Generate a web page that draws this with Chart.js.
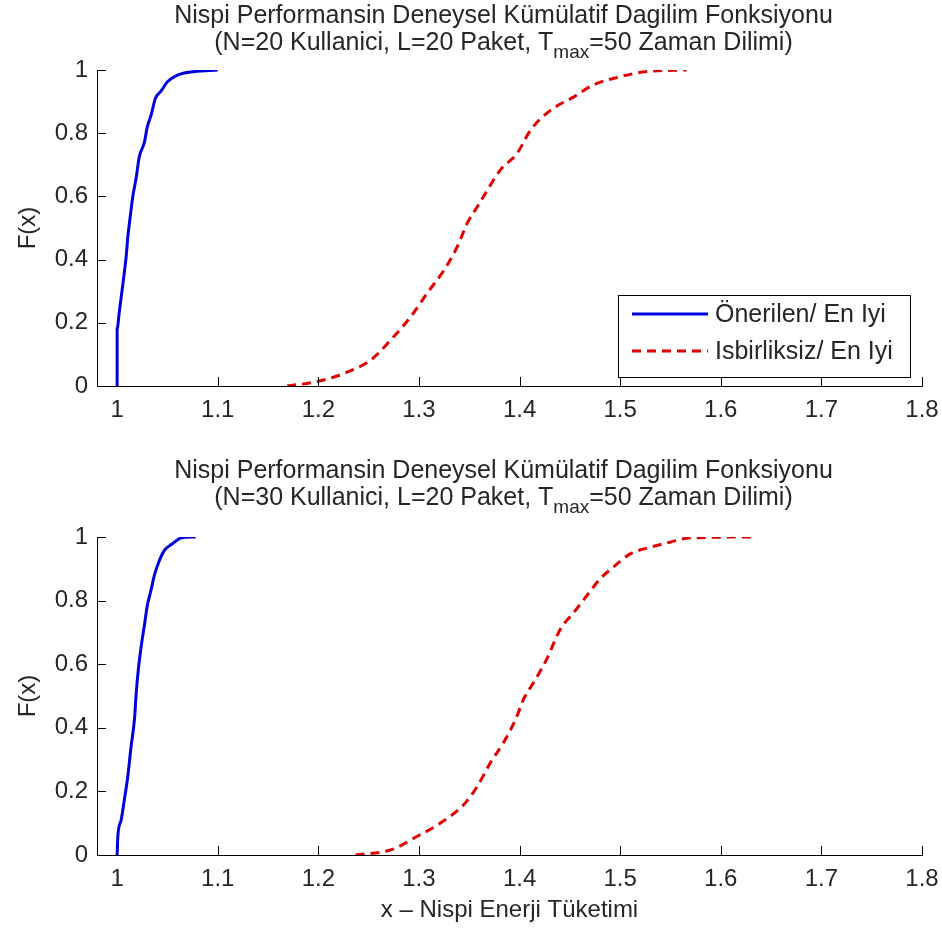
<!DOCTYPE html>
<html>
<head>
<meta charset="utf-8">
<script src="https://cdn.jsdelivr.net/npm/chart.js@4"></script>
<style>
  body { margin: 0; background: #fff; }
  .panel { position: absolute; left: 0; width: 942px; }
</style>
</head>
<body>
<div class="panel" style="top:0;height:455px"><canvas id="cdf-top"></canvas></div>
<div class="panel" style="top:455px;height:476px"><canvas id="cdf-bottom"></canvas></div>
<script>
// axis ticks
const xTicks = [1, 1.1, 1.2, 1.3, 1.4, 1.5, 1.6, 1.7, 1.8];
const yTicks = [0, 0.2, 0.4, 0.6, 0.8, 1];

// legend labels
const seriesNames = ["Önerilen/ En Iyi", "Isbirliksiz/ En Iyi"];

// N=20 panel
const blueTopX = [1.0, 1.0, 1.002, 1.004, 1.0066, 1.009, 1.0106, 1.013, 1.0156, 1.019, 1.022, 1.027, 1.030, 1.034, 1.038, 1.044, 1.050, 1.060, 1.077, 1.10];
const blueTopF = [0, 0.18, 0.23, 0.28, 0.345, 0.41, 0.47, 0.535, 0.6, 0.66, 0.725, 0.77, 0.82, 0.86, 0.91, 0.935, 0.963, 0.984, 0.995, 1.0];
const redTopX = [1.169, 1.199, 1.2255, 1.252, 1.272, 1.292, 1.308, 1.325, 1.338, 1.348, 1.358, 1.368, 1.381, 1.3975, 1.411, 1.431, 1.454, 1.4735, 1.50, 1.5265, 1.566];
const redTopF = [0, 0.014, 0.04, 0.082, 0.146, 0.22, 0.293, 0.367, 0.44, 0.515, 0.567, 0.62, 0.684, 0.736, 0.81, 0.873, 0.915, 0.953, 0.979, 0.995, 1.0];

// N=30 panel
const blueBotX = [1.0, 1.0007, 1.004, 1.0072, 1.0106, 1.0139, 1.0172, 1.019, 1.0211, 1.024, 1.027, 1.030, 1.034, 1.037, 1.042, 1.047, 1.055, 1.0635, 1.078];
const blueBotF = [0, 0.058, 0.11, 0.174, 0.247, 0.342, 0.426, 0.51, 0.584, 0.658, 0.72, 0.784, 0.837, 0.879, 0.926, 0.958, 0.979, 0.997, 1.0];
const redBotX = [1.237, 1.272, 1.298, 1.321, 1.3445, 1.358, 1.371, 1.384, 1.396, 1.404, 1.416, 1.427, 1.4405, 1.454, 1.467, 1.480, 1.493, 1.51, 1.53, 1.55, 1.569, 1.632];
const redBotF = [0, 0.016, 0.058, 0.1, 0.158, 0.216, 0.29, 0.353, 0.426, 0.49, 0.553, 0.616, 0.71, 0.763, 0.816, 0.868, 0.905, 0.947, 0.968, 0.984, 0.997, 1.0];

const FONT = "'Liberation Sans', Arial, sans-serif";
const TEXT_COLOR = "#262626";
const BLUE = "#0000dd";
const RED = "#e00000";

Chart.defaults.font.family = FONT;
Chart.defaults.font.size = 24;
Chart.defaults.color = TEXT_COLOR;

function toPoints(xs, fs) {
  return xs.map((x, i) => ({ x: x, y: fs[i] }));
}

// matlab style ticks, pointing into the plot
const inwardTicks = {
  id: "inwardTicks",
  afterDatasetsDraw(chart) {
    const { ctx, chartArea } = chart;
    const x = chart.scales.x;
    const y = chart.scales.y;
    ctx.save();
    ctx.strokeStyle = "#000";
    ctx.lineWidth = 1;
    ctx.beginPath();
    xTicks.forEach((v) => {
      const px = Math.round(x.getPixelForValue(v)) + 0.5;
      ctx.moveTo(px, chartArea.bottom);
      ctx.lineTo(px, chartArea.bottom - 9);
    });
    yTicks.forEach((v) => {
      const py = Math.round(y.getPixelForValue(v)) + 0.5;
      ctx.moveTo(chartArea.left, py);
      ctx.lineTo(chartArea.left + 9, py);
    });
    ctx.stroke();
    ctx.restore();
  }
};

// two line title with the T_max subscript
const panelTitle = {
  id: "panelTitle",
  afterDraw(chart, args, opts) {
    const { ctx, chartArea } = chart;
    const cx = (chartArea.left + chartArea.right) / 2 - 6;
    ctx.save();
    ctx.fillStyle = TEXT_COLOR;
    ctx.textBaseline = "alphabetic";
    ctx.font = "25px " + FONT;
    ctx.textAlign = "center";
    ctx.fillText("Nispi Performansin Deneysel Kümülatif Dagilim Fonksiyonu", cx, 23);

    const a = "(N=" + opts.users + " Kullanici, L=20 Paket, T";
    const sub = "max";
    const b = "=50 Zaman Dilimi)";
    ctx.textAlign = "left";
    const wa = ctx.measureText(a).width;
    const wb = ctx.measureText(b).width;
    ctx.font = "19px " + FONT;
    const ws = ctx.measureText(sub).width;
    let px = cx - (wa + ws + wb) / 2;
    ctx.font = "25px " + FONT;
    ctx.fillText(a, px, 50);
    px += wa;
    ctx.font = "19px " + FONT;
    ctx.fillText(sub, px, 58);
    px += ws;
    ctx.font = "25px " + FONT;
    ctx.fillText(b, px, 50);
    ctx.restore();
  }
};

// boxed legend in the lower right corner
const boxLegend = {
  id: "boxLegend",
  afterDraw(chart, args, opts) {
    if (!opts.show) return;
    const { ctx } = chart;
    const left = 618, top = 295, w = 292, h = 82;
    ctx.save();
    ctx.fillStyle = "#fff";
    ctx.fillRect(left, top, w, h);
    ctx.strokeStyle = "#000";
    ctx.lineWidth = 1;
    ctx.strokeRect(left + 0.5, top + 0.5, w, h);
    ctx.font = "25px " + FONT;
    ctx.textBaseline = "middle";
    chart.data.datasets.forEach((ds, i) => {
      const rowY = top + 19 + i * 37;
      ctx.strokeStyle = ds.borderColor;
      ctx.lineWidth = ds.borderWidth;
      ctx.setLineDash(ds.borderDash || []);
      ctx.beginPath();
      ctx.moveTo(632, rowY);
      ctx.lineTo(708, rowY);
      ctx.stroke();
      ctx.setLineDash([]);
      ctx.fillStyle = TEXT_COLOR;
      ctx.fillText(ds.label, 715, rowY + 1);
    });
    ctx.restore();
  }
};

function makePanel(canvasId, cfg) {
  return new Chart(document.getElementById(canvasId), {
    type: "line",
    data: {
      datasets: [
        {
          label: seriesNames[0],
          data: toPoints(cfg.blueX, cfg.blueF),
          borderColor: BLUE,
          borderWidth: 3,
          pointRadius: 0,
          cubicInterpolationMode: "monotone",
          fill: false
        },
        {
          label: seriesNames[1],
          data: toPoints(cfg.redX, cfg.redF),
          borderColor: RED,
          borderWidth: 3,
          borderDash: [9, 6],
          pointRadius: 0,
          cubicInterpolationMode: "monotone",
          fill: false
        }
      ]
    },
    options: {
      responsive: true,
      maintainAspectRatio: false,
      animation: false,
      layout: { padding: { top: cfg.padTop, right: 20, left: 0, bottom: 0 } },
      plugins: {
        legend: { display: false },
        tooltip: { enabled: false },
        panelTitle: { users: cfg.users },
        boxLegend: { show: cfg.legend }
      },
      scales: {
        x: {
          type: "linear",
          min: 0.98,
          max: 1.8,
          afterBuildTicks: (scale) => {
            scale.ticks = xTicks.map((v) => ({ value: v }));
          },
          afterFit: (scale) => {
            scale.height = cfg.xAxisHeight;
            scale.paddingLeft = 0;
            scale.paddingRight = 0;
          },
          grid: { display: false, drawTicks: false },
          border: { display: true, color: "#000", width: 1 },
          ticks: { padding: 10, maxRotation: 0, autoSkip: false, callback: (v) => String(v) },
          title: {
            display: cfg.xTitle,
            text: "x – Nispi Enerji Tüketimi",
            padding: { top: 0, bottom: 6 }
          }
        },
        y: {
          min: 0,
          max: 1,
          afterBuildTicks: (scale) => {
            scale.ticks = yTicks.map((v) => ({ value: v }));
          },
          afterFit: (scale) => {
            scale.width = 97;
          },
          grid: { display: false, drawTicks: false },
          border: { display: true, color: "#000", width: 1 },
          ticks: { padding: 9, callback: (v) => String(v) },
          title: {
            display: true,
            text: "F(x)",
            padding: { top: 14, bottom: 0 }
          }
        }
      }
    },
    plugins: [inwardTicks, panelTitle, boxLegend]
  });
}

makePanel("cdf-top", {
  blueX: blueTopX, blueF: blueTopF, redX: redTopX, redF: redTopF,
  users: 20, legend: true, xTitle: false, padTop: 70, xAxisHeight: 69
});

makePanel("cdf-bottom", {
  blueX: blueBotX, blueF: blueBotF, redX: redBotX, redF: redBotF,
  users: 30, legend: false, xTitle: true, padTop: 82, xAxisHeight: 76
});
</script>
</body>
</html>
